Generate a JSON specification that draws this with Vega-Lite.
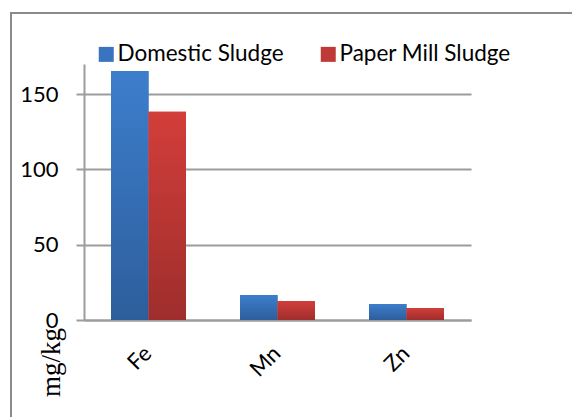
{
  "$schema": "https://vega.github.io/schema/vega-lite/v6.json",
  "width": 700,
  "height": 409,
  "autosize": {"type": "none", "resize": false},
  "padding": {"left": 11, "top": 13, "right": -138, "bottom": -5},
  "background": "white",
  "config": {
    "view": {"stroke": "#8a8a8a", "strokeWidth": 2, "strokeDash": [561, 950, 430, 0]},
    "font": "Lato"
  },
  "data": {
    "values": [
      {"element": "Fe", "sludge": "Domestic Sludge", "value": 165.3},
      {"element": "Fe", "sludge": "Paper Mill Sludge", "value": 138.3},
      {"element": "Mn", "sludge": "Domestic Sludge", "value": 16.6},
      {"element": "Mn", "sludge": "Paper Mill Sludge", "value": 12.6},
      {"element": "Zn", "sludge": "Domestic Sludge", "value": 10.6},
      {"element": "Zn", "sludge": "Paper Mill Sludge", "value": 8.0}
    ]
  },
  "encoding": {
    "x": {
      "field": "element",
      "type": "nominal",
      "sort": ["Fe", "Mn", "Zn"],
      "scale": {"range": [73, 460], "paddingInner": 0, "paddingOuter": 0},
      "axis": {
        "orient": "bottom",
        "offset": -102,
        "title": null,
        "labelAngle": -45,
        "labelAlign": "right",
        "labelBaseline": "bottom",
        "labelOffset": 8,
        "ticks": false,
        "grid": false,
        "domainColor": "#9c9c9c",
        "domainWidth": 2,
        "labelFont": "Lato",
        "labelFontSize": 22,
        "labelColor": "black",
        "labelPadding": 38
      }
    },
    "xOffset": {
      "field": "sludge",
      "type": "nominal",
      "sort": ["Domestic Sludge", "Paper Mill Sludge"],
      "scale": {"paddingInner": 0, "paddingOuter": 0.72}
    },
    "y": {
      "field": "value",
      "type": "quantitative",
      "scale": {"domain": [0, 170], "range": [307, 51], "nice": false, "zero": true},
      "axis": {
        "orient": "left",
        "offset": -73,
        "values": [0, 50, 100, 150],
        "grid": true,
        "gridColor": "#9c9c9c",
        "gridWidth": 2,
        "domainColor": "#9c9c9c",
        "domainWidth": 2,
        "tickColor": "#9c9c9c",
        "tickWidth": 2,
        "tickSize": 8,
        "labelFont": "Lato",
        "labelFontSize": 22,
        "labelColor": "black",
        "labelPadding": 18,
        "title": "mg/kg",
        "titleFont": "Liberation Serif",
        "titleFontSize": 27,
        "titleFontWeight": "normal",
        "titleColor": "black",
        "titleAngle": 270,
        "titleAlign": "center",
        "titleBaseline": "middle",
        "titleX": -33,
        "titleY": 349
      }
    }
  },
  "layer": [
    {
      "mark": {"type": "bar"},
      "encoding": {
        "color": {
          "field": "sludge",
          "type": "nominal",
          "scale": {
            "domain": ["Domestic Sludge", "Paper Mill Sludge"],
            "range": ["#3a74c1", "#bf3a36"]
          },
          "legend": {
            "orient": "none",
            "legendX": 84,
            "legendY": 30,
            "direction": "horizontal",
            "title": null,
            "symbolType": "square",
            "symbolSize": 225,
            "symbolStrokeWidth": 0,
            "labelFont": "Lato",
            "labelFontSize": 22.5,
            "labelColor": "black",
            "labelLimit": 400,
            "labelOffset": 0,
            "columnPadding": 33
          }
        }
      }
    },
    {
      "mark": {"type": "bar"},
      "encoding": {
        "color": {
          "condition": {
            "test": "datum.sludge === 'Domestic Sludge'",
            "value": {
              "gradient": "linear", "x1": 0, "y1": 0, "x2": 0, "y2": 1,
              "stops": [{"offset": 0, "color": "#3d7ecc"}, {"offset": 1, "color": "#2d5e9c"}]
            }
          },
          "value": {
            "gradient": "linear", "x1": 0, "y1": 0, "x2": 0, "y2": 1,
            "stops": [{"offset": 0, "color": "#d23e3a"}, {"offset": 1, "color": "#9e2e2c"}]
          }
        }
      }
    }
  ]
}
